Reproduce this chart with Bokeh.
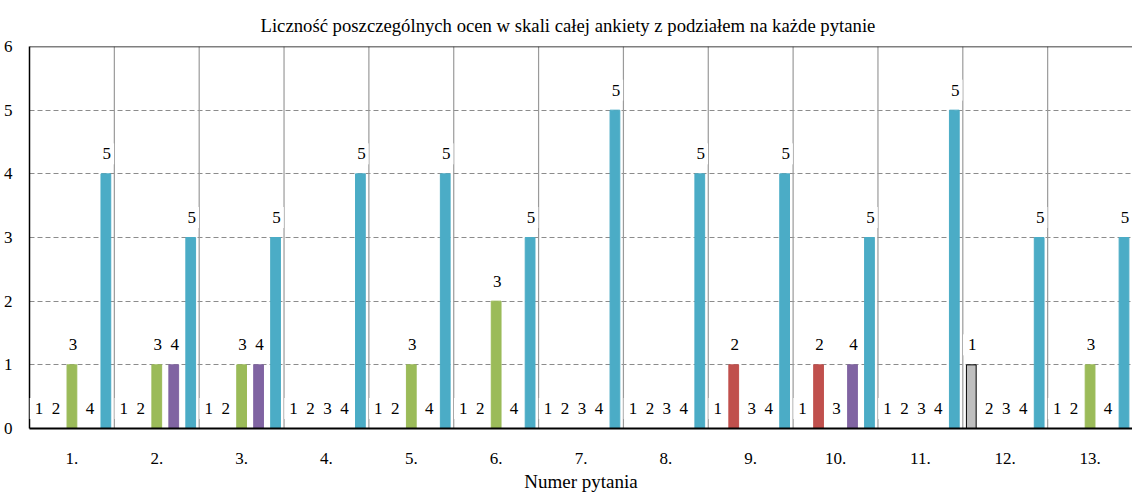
from bokeh.plotting import figure
from bokeh.models import Range1d, FixedTicker, Span, ColumnDataSource
from bokeh.core.properties import value
from bokeh.embed import file_html
from bokeh.resources import INLINE

# ---- data ----
questions = ["1.", "2.", "3.", "4.", "5.", "6.", "7.", "8.", "9.", "10.", "11.", "12.", "13."]
ratings = ["1", "2", "3", "4", "5"]
count_1 = [0, 0, 0, 0, 0, 0, 0, 0, 0, 0, 0, 1, 0]
count_2 = [0, 0, 0, 0, 0, 0, 0, 0, 1, 1, 0, 0, 0]
count_3 = [1, 1, 1, 0, 1, 2, 0, 0, 0, 0, 0, 0, 1]
count_4 = [0, 1, 1, 0, 0, 0, 0, 0, 0, 1, 0, 0, 0]
count_5 = [4, 3, 3, 4, 4, 3, 5, 4, 4, 3, 5, 3, 3]
y_ticks = [0, 1, 2, 3, 4, 5, 6]

title_text = "Liczność poszczególnych ocen w skali całej ankiety z podziałem na każde pytanie"
x_label = "Numer pytania"

fill_colors = ["#BFBFBF", "#C0504D", "#9BBB59", "#8064A2", "#4BACC6"]
line_colors = ["#000000", "#C0504D", "#9BBB59", "#8064A2", "#4BACC6"]

FONT = "Liberation Serif"

series = [count_1, count_2, count_3, count_4, count_5]
xs, tops, labels, fills, lines = [], [], [], [], []
for k, (vals, r) in enumerate(zip(series, ratings)):
    for i, v in enumerate(vals):
        xs.append(i + 0.1 + 0.2 * k)
        tops.append(v)
        labels.append(r)
        fills.append(fill_colors[k])
        lines.append(line_colors[k])
src = ColumnDataSource(dict(x=xs, top=tops, label=labels, fill=fills, line=lines))

n = len(questions)
p = figure(width=1132, height=494,
           x_range=Range1d(0, n), y_range=Range1d(0, 6),
           output_backend="svg", toolbar_location=None,
           min_border_left=28, min_border_right=0, min_border_top=46, min_border_bottom=10)

p.title.text = title_text
p.title.align = "left"
p.title.text_font = FONT
p.title.text_font_size = "18.7px"
p.title.text_font_style = "normal"
p.title.text_color = "black"
p.title.offset = 231
p.title.standoff = 22

p.outline_line_color = None
p.background_fill_color = "white"

# grid
p.xgrid.visible = False
p.ygrid.ticker = FixedTicker(ticks=y_ticks[1:])
p.ygrid.grid_line_color = "#8C8C8C"
p.ygrid.grid_line_dash = "5 3"
p.ygrid.grid_line_width = 1

# separators between questions
seps = list(range(1, n))
p.segment(x0=seps, y0=[0] * len(seps), x1=seps, y1=[6] * len(seps),
          line_color="#9A9A9A", line_width=1.2)

# bars
p.vbar(x="x", top="top", bottom=0, width=0.115, source=src,
       fill_color="fill", line_color="line", line_width=1)

# labels
lab = p.text(x="x", y="top", text="label", source=src,
             text_font=value(FONT), text_font_size="17px", text_color="black",
             text_align="center", text_baseline="middle", y_offset=-20,
             background_fill_color="white", padding=dict(left=5, right=3, top=5, bottom=5),
             level="annotation")

# top line
p.add_layout(Span(location=6, dimension="width", line_color="black", line_width=1.5))

# y axis
p.yaxis.ticker = FixedTicker(ticks=y_ticks)
p.yaxis.major_tick_line_color = None
p.yaxis.minor_tick_line_color = None
p.yaxis.axis_line_color = "black"
p.yaxis.axis_line_width = 1.5
p.yaxis.major_label_text_font = FONT
p.yaxis.major_label_text_font_size = "17px"
p.yaxis.major_label_text_color = "black"
p.yaxis.major_label_standoff = 11

# x axis
centers = [i + 0.5 for i in range(n)]
p.xaxis.ticker = FixedTicker(ticks=centers)
p.xaxis.major_label_overrides = {c: q for c, q in zip(centers, questions)}
p.xaxis.major_tick_line_color = None
p.xaxis.minor_tick_line_color = None
p.xaxis.axis_line_color = "black"
p.xaxis.axis_line_width = 2
p.xaxis.major_label_text_font = FONT
p.xaxis.major_label_text_font_size = "17px"
p.xaxis.major_label_text_color = "black"
p.xaxis.major_label_standoff = 18
p.xaxis.axis_label = x_label
p.xaxis.axis_label_text_font = FONT
p.xaxis.axis_label_text_font_size = "19px"
p.xaxis.axis_label_text_font_style = "normal"
p.xaxis.axis_label_text_color = "black"
p.xaxis.axis_label_standoff = 4

open("out.html", "w").write(file_html(p, INLINE))
